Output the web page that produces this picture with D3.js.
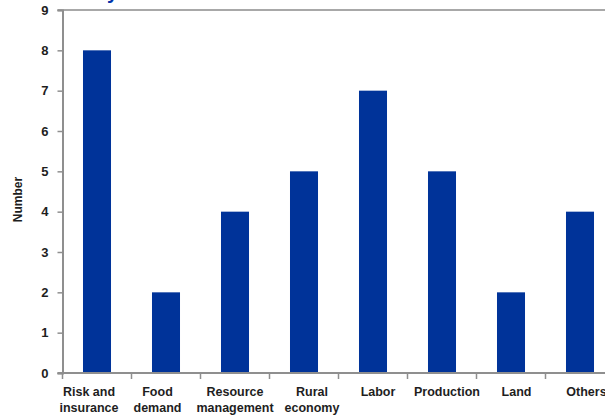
<!DOCTYPE html>
<html>
<head>
<meta charset="utf-8">
<script src="https://cdn.jsdelivr.net/npm/d3@7"></script>
<style>
  html, body { margin: 0; padding: 0; background: #fff; overflow: hidden; }
  svg text { font-family: "Liberation Sans", Arial, sans-serif; font-weight: bold; fill: #1e1e1e; }
</style>
</head>
<body>
<div id="chart"></div>
<script>
// Chart data
const categories = ['Risk and|insurance', 'Food|demand', 'Resource|management', 'Rural|economy',
                    'Labor', 'Production', 'Land', 'Others'];
const counts = [8, 2, 4, 5, 7, 5, 2, 4];
const yTicks = [0, 1, 2, 3, 4, 5, 6, 7, 8, 9];

const W = 605, H = 419;
const margin = { top: 10, left: 62.5, bottom: 46 };
const bandStep = 69;
const plotBottom = H - margin.bottom; // y of zero line
// small horizontal nudges of the category labels, as in the original layout
const labelShift = [-8, -8.5, 0, 8, 5, 5, 5.5, 6.5];

const svg = d3.select('#chart').append('svg')
    .attr('width', W)
    .attr('height', H);

const x = d3.scaleBand()
    .domain(categories)
    .range([margin.left, margin.left + bandStep * categories.length])
    .paddingInner(0.594)
    .paddingOuter(0.297);

const y = d3.scaleLinear()
    .domain([0, 9])
    .range([plotBottom, margin.top]);

const axisColor = '#8f8f8f';

// Bars
svg.append('g')
    .selectAll('rect')
    .data(categories)
    .enter()
    .append('rect')
    .attr('x', d => x(d))
    .attr('width', x.bandwidth())
    .attr('y', (d, i) => y(counts[i]))
    .attr('height', (d, i) => y(0) - y(counts[i]))
    .attr('fill', '#003399');

// Top frame line
svg.append('line')
    .attr('x1', margin.left - 5).attr('x2', W)
    .attr('y1', y(9)).attr('y2', y(9))
    .attr('stroke', '#a8a8a8').attr('stroke-width', 2);

// Y axis
const yAxis = svg.append('g')
    .attr('transform', `translate(${margin.left},0)`)
    .call(d3.axisLeft(y).tickValues(yTicks).tickSize(5).tickPadding(9).tickFormat(d3.format('d')));
yAxis.select('.domain').attr('stroke', axisColor).attr('stroke-width', 2);
yAxis.selectAll('.tick line').attr('stroke', axisColor).attr('stroke-width', 1.5);
yAxis.selectAll('text').style('font-size', '13px').style('fill', '#1e1e1e');

// X axis: line plus ticks at band boundaries
svg.append('line')
    .attr('x1', margin.left - 5).attr('x2', W)
    .attr('y1', plotBottom).attr('y2', plotBottom)
    .attr('stroke', axisColor).attr('stroke-width', 2);

const boundaries = d3.range(categories.length + 1).map(i => margin.left + i * x.step());
svg.append('g')
    .selectAll('line')
    .data(boundaries)
    .enter()
    .append('line')
    .attr('x1', d => d).attr('x2', d => d)
    .attr('y1', plotBottom).attr('y2', plotBottom + 6)
    .attr('stroke', axisColor).attr('stroke-width', 1.5);

// Category labels (two lines)
const labels = svg.append('g')
    .selectAll('text')
    .data(categories)
    .enter()
    .append('text')
    .attr('text-anchor', 'middle')
    .attr('x', (d, i) => x(d) + x.bandwidth() / 2 + labelShift[i])
    .attr('y', plotBottom + 23)
    .style('font-size', '12.5px');

labels.each(function (d) {
    const parts = d.split('|');
    const t = d3.select(this);
    const cx = t.attr('x');
    parts.forEach((p, i) => {
        t.append('tspan').attr('x', cx).attr('dy', i === 0 ? 0 : 16).text(p);
    });
});

// Y axis title
svg.append('text')
    .attr('transform', `translate(22,${(y(0) + y(9)) / 2 + 8}) rotate(-90)`)
    .attr('text-anchor', 'middle')
    .style('font-size', '12px')
    .text('Number');

// Title clipped at the top edge (only its descender shows)
svg.append('text')
    .attr('x', 118).attr('y', -1)
    .attr('text-anchor', 'end')
    .style('font-size', '20px')
    .style('fill', '#0033aa')
    .text('y');
</script>
</body>
</html>
